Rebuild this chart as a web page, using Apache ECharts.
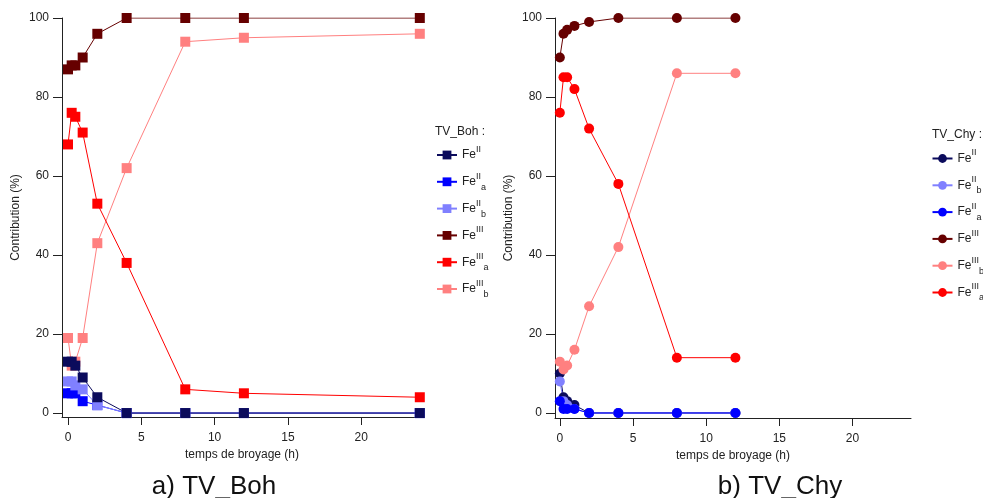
<!DOCTYPE html>
<html>
<head>
<meta charset="utf-8">
<script src="https://cdn.jsdelivr.net/npm/echarts@6/dist/echarts.min.js"></script>
<style>
  html, body { margin: 0; padding: 0; background: #fff; }
  #main { width: 983px; height: 498px; }
</style>
</head>
<body>
<div id="main"></div>
<script>
// temps de broyage (h)
var timesBoh = [0, 0.25, 0.5, 1, 2, 4, 8, 12, 24];
var timesChy = [0, 0.25, 0.5, 1, 2, 4, 8, 12];

// TV_Boh contributions (%)
var bohFeII   = [13, 13, 12, 9, 4, 0, 0, 0, 0];
var bohFeIIa  = [5, 5, 5, 3, 2, 0, 0, 0, 0];
var bohFeIIb  = [8, 8, 7, 6, 2, 0, 0, 0, 0];
var bohFeIII  = [87, 88, 88, 90, 96, 100, 100, 100, 100];
var bohFeIIIa = [68, 76, 75, 71, 53, 38, 6, 5, 4];
var bohFeIIIb = [19, 12, 13, 19, 43, 62, 94, 95, 96];

// TV_Chy contributions (%)
var chyFeII   = [10, 4, 3, 2, 0, 0, 0, 0];
var chyFeIIb  = [8, 3, 2, 1, 0, 0, 0, 0];
var chyFeIIa  = [3, 1, 1, 1, 0, 0, 0, 0];
var chyFeIII  = [90, 96, 97, 98, 99, 100, 100, 100];
var chyFeIIIb = [13, 11, 12, 16, 27, 42, 86, 86];
var chyFeIIIa = [76, 85, 85, 82, 72, 58, 14, 14];

var xTicks = [0, 5, 10, 15, 20];
var yTicks = [0, 20, 40, 60, 80, 100];

var colors = {
    FeII: '#0b0b5c',
    FeIIa: '#0000ff',
    FeIIb: '#8080ff',
    FeIII: '#660000',
    FeIIIa: '#ff0000',
    FeIIIb: '#ff8080'
};

var font = 'Liberation Sans, Arial, sans-serif';

function pairs(xs, ys) {
    return xs.map(function (x, i) { return [x, ys[i]]; });
}

function mkSeries(prefix, key, xs, ys, idx, symbol) {
    return {
        name: prefix + '_' + key,
        type: 'line',
        xAxisIndex: idx,
        yAxisIndex: idx,
        data: pairs(xs, ys),
        symbol: symbol,
        symbolSize: 10,
        showSymbol: true,
        lineStyle: { color: colors[key], width: 1 },
        itemStyle: { color: colors[key] },
        emphasis: { disabled: true }
    };
}

// legend label: Fe + exposant / indice
function legendLabel(name) {
    var key = name.split('_')[1];
    var m = key.match(/^Fe(I+)([ab]?)$/);
    return '{fe|Fe}{sup|' + m[1] + '}{sub|' + (m[2] || ' ') + '}';
}

var richStyle = {
    fe: { fontSize: 12, fontFamily: font, color: '#222', lineHeight: 20, verticalAlign: 'middle' },
    sup: { fontSize: 9, fontFamily: font, color: '#222', lineHeight: 11, verticalAlign: 'top' },
    sub: { fontSize: 9, fontFamily: font, color: '#222', lineHeight: 11, verticalAlign: 'bottom' }
};

function xAxisCfg(idx, min, max) {
    return {
        type: 'value',
        gridIndex: idx,
        min: min,
        max: max,
        name: 'temps de broyage (h)',
        nameLocation: 'middle',
        nameGap: 24,
        nameTextStyle: { fontSize: 12, fontFamily: font, color: '#222' },
        axisLine: { onZero: false, lineStyle: { color: '#222', width: 1 } },
        axisTick: { show: true, length: 8, customValues: xTicks, lineStyle: { color: '#222' } },
        axisLabel: { customValues: xTicks, margin: 15, fontSize: 12, fontFamily: font, color: '#222' },
        splitLine: { show: false }
    };
}

function yAxisCfg(idx, min) {
    return {
        type: 'value',
        gridIndex: idx,
        min: min,
        max: 100,
        name: 'Contribution (%)',
        nameLocation: 'middle',
        nameRotate: 90,
        nameGap: 40,
        nameTextStyle: { fontSize: 12, fontFamily: font, color: '#222' },
        axisLine: { show: true, onZero: false, lineStyle: { color: '#222', width: 1 } },
        axisTick: { show: true, length: 9, customValues: yTicks, lineStyle: { color: '#222' } },
        axisLabel: { customValues: yTicks, margin: 13, fontSize: 12, fontFamily: font, color: '#222' },
        splitLine: { show: false }
    };
}

var myChart = echarts.init(document.getElementById('main'));

var option = {
    animation: false,
    backgroundColor: '#fff',
    title: [
        { text: 'TV_Boh :', left: 430, top: 121, textStyle: { fontSize: 12, fontWeight: 'normal', fontFamily: font, color: '#222' } },
        { text: 'TV_Chy :', left: 927, top: 124, textStyle: { fontSize: 12, fontWeight: 'normal', fontFamily: font, color: '#222' } },
        { text: 'a) TV_Boh', left: 214, textAlign: 'center', top: 474, padding: 0, textStyle: { fontSize: 26, fontWeight: 'normal', fontFamily: font, color: '#111' } },
        { text: 'b) TV_Chy', left: 780, textAlign: 'center', top: 474, padding: 0, textStyle: { fontSize: 26, fontWeight: 'normal', fontFamily: font, color: '#111' } }
    ],
    legend: [
        {
            orient: 'vertical',
            left: 431,
            top: 140,
            itemWidth: 20,
            itemHeight: 11,
            itemGap: 6.8,
            data: ['Boh_FeII', 'Boh_FeIIa', 'Boh_FeIIb', 'Boh_FeIII', 'Boh_FeIIIa', 'Boh_FeIIIb'],
            formatter: legendLabel,
            textStyle: { rich: richStyle },
            selectedMode: false
        },
        {
            orient: 'vertical',
            left: 926.5,
            top: 143.5,
            itemWidth: 20,
            itemHeight: 11,
            itemGap: 6.8,
            data: ['Chy_FeII', 'Chy_FeIIb', 'Chy_FeIIa', 'Chy_FeIII', 'Chy_FeIIIb', 'Chy_FeIIIa'],
            formatter: legendLabel,
            textStyle: { rich: richStyle },
            selectedMode: false
        }
    ],
    grid: [
        { left: 62, top: 18, width: 360, height: 399 },
        { left: 555, top: 18, width: 356, height: 400 }
    ],
    xAxis: [xAxisCfg(0, -0.41, 24.15), xAxisCfg(1, -0.33, 24)],
    yAxis: [yAxisCfg(0, -1), yAxisCfg(1, -1.27)],
    series: [
        mkSeries('Boh', 'FeIIIb', timesBoh, bohFeIIIb, 0, 'rect'),
        mkSeries('Boh', 'FeIIIa', timesBoh, bohFeIIIa, 0, 'rect'),
        mkSeries('Boh', 'FeIII', timesBoh, bohFeIII, 0, 'rect'),
        mkSeries('Boh', 'FeIIa', timesBoh, bohFeIIa, 0, 'rect'),
        mkSeries('Boh', 'FeIIb', timesBoh, bohFeIIb, 0, 'rect'),
        mkSeries('Boh', 'FeII', timesBoh, bohFeII, 0, 'rect'),

        mkSeries('Chy', 'FeII', timesChy, chyFeII, 1, 'circle'),
        mkSeries('Chy', 'FeIIb', timesChy, chyFeIIb, 1, 'circle'),
        mkSeries('Chy', 'FeIIa', timesChy, chyFeIIa, 1, 'circle'),
        mkSeries('Chy', 'FeIII', timesChy, chyFeIII, 1, 'circle'),
        mkSeries('Chy', 'FeIIIb', timesChy, chyFeIIIb, 1, 'circle'),
        mkSeries('Chy', 'FeIIIa', timesChy, chyFeIIIa, 1, 'circle')
    ]
};

myChart.setOption(option);
</script>
</body>
</html>
